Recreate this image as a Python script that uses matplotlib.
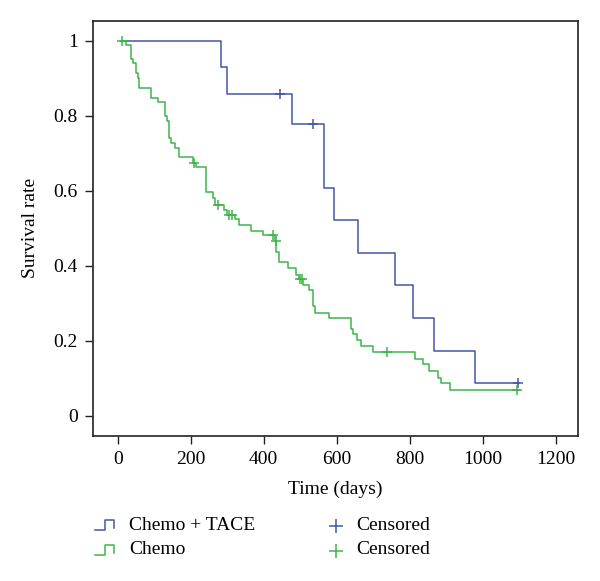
import matplotlib
matplotlib.use("Agg")
import matplotlib.pyplot as plt
from matplotlib.lines import Line2D

plt.rcParams['font.family'] = ['Liberation Serif', 'DejaVu Serif']

# ---- data ----
tace_times = [8, 282, 298, 478, 566, 593, 659, 760, 810, 867, 979, 1100]
tace_surv = [1.0, 0.929, 0.857, 0.779, 0.607, 0.521, 0.435, 0.348, 0.261, 0.174, 0.087, 0.087]
tace_cens_t = [445, 536, 1096]
tace_cens_s = [0.857, 0.779, 0.087]

chemo_times = [8, 22, 35, 43, 50, 54, 59, 90, 111, 130, 134, 139, 146, 157, 168,
               205, 214, 243, 262, 267, 291, 299, 321, 333, 366, 398, 431, 434,
               442, 467, 489, 496, 508, 524, 536, 541, 579, 638, 646, 657, 666,
               700, 815, 837, 854, 878, 886, 912, 1100]
chemo_surv = [1.0, 0.988, 0.951, 0.940, 0.914, 0.900, 0.874, 0.847, 0.838, 0.800,
              0.785, 0.740, 0.727, 0.714, 0.689, 0.674, 0.663, 0.598, 0.580, 0.563,
              0.549, 0.536, 0.524, 0.509, 0.494, 0.481, 0.467, 0.438, 0.409, 0.394,
              0.376, 0.364, 0.349, 0.336, 0.293, 0.275, 0.260, 0.232, 0.217, 0.202,
              0.185, 0.170, 0.152, 0.138, 0.120, 0.102, 0.087, 0.069, 0.069]
chemo_cens_t = [11, 209, 274, 306, 313, 426, 433, 499, 505, 737, 1095]
chemo_cens_s = [1.0, 0.674, 0.563, 0.536, 0.536, 0.481, 0.467, 0.364, 0.364, 0.170, 0.069]

x_ticks = [0, 200, 400, 600, 800, 1000, 1200]
y_ticks = [0, 0.2, 0.4, 0.6, 0.8, 1]
y_tick_labels = ['0', '0.2', '0.4', '0.6', '0.8', '1']
series_labels = ['Chemo + TACE', 'Chemo']
cens_label = 'Censored'

blue = '#4257A8'
green = '#3DB54A'

fig = plt.figure(figsize=(6, 5.81), dpi=100)
ax = fig.add_axes([0.155, 0.250, 0.808, 0.714])

ax.step(tace_times, tace_surv, where='post', color=blue, lw=1.1)
ax.step(chemo_times, chemo_surv, where='post', color=green, lw=1.1)
ax.plot(tace_cens_t, tace_cens_s, '+', color=blue, ms=7, mew=1.1)
ax.plot(chemo_cens_t, chemo_cens_s, '+', color=green, ms=7, mew=1.1)

ax.set_xlim(-68, 1261)
ax.set_ylim(-0.053, 1.053)
ax.set_xticks(x_ticks)
ax.set_yticks(y_ticks)
ax.set_yticklabels(y_tick_labels)
ax.tick_params(direction='out', length=6, width=1.0, labelsize=14, pad=5, color='#222222')
for s in ax.spines.values():
    s.set_linewidth(1.2)
    s.set_color('#222222')
ax.set_xlabel('Time (days)', fontsize=14, labelpad=9)
ax.set_ylabel('Survival rate', fontsize=14, labelpad=10)

# ---- legend (manual, below the axes) ----
W, H = 600, 581
def fx(px):
    return px / W
def fy(py):
    return 1 - py / H

rows = [525, 550]
colors = [blue, green]
for yc, col, lab in zip(rows, colors, series_labels):
    xs = [95, 105, 105, 114, 114]
    ys = [yc + 5, yc + 5, yc - 5, yc - 5, yc + 3]
    fig.add_artist(Line2D([fx(v) for v in xs], [fy(v) for v in ys],
                          color=col, lw=1.1, transform=fig.transFigure))
    fig.text(fx(129), fy(yc), lab, fontsize=14, va='center', ha='left')
    fig.add_artist(Line2D([fx(336)], [fy(yc + 1)], marker='+', ms=10, mew=1.1,
                          color=col, transform=fig.transFigure))
    fig.text(fx(356), fy(yc), cens_label, fontsize=14, va='center', ha='left')

fig.savefig('out.png', dpi=100)
